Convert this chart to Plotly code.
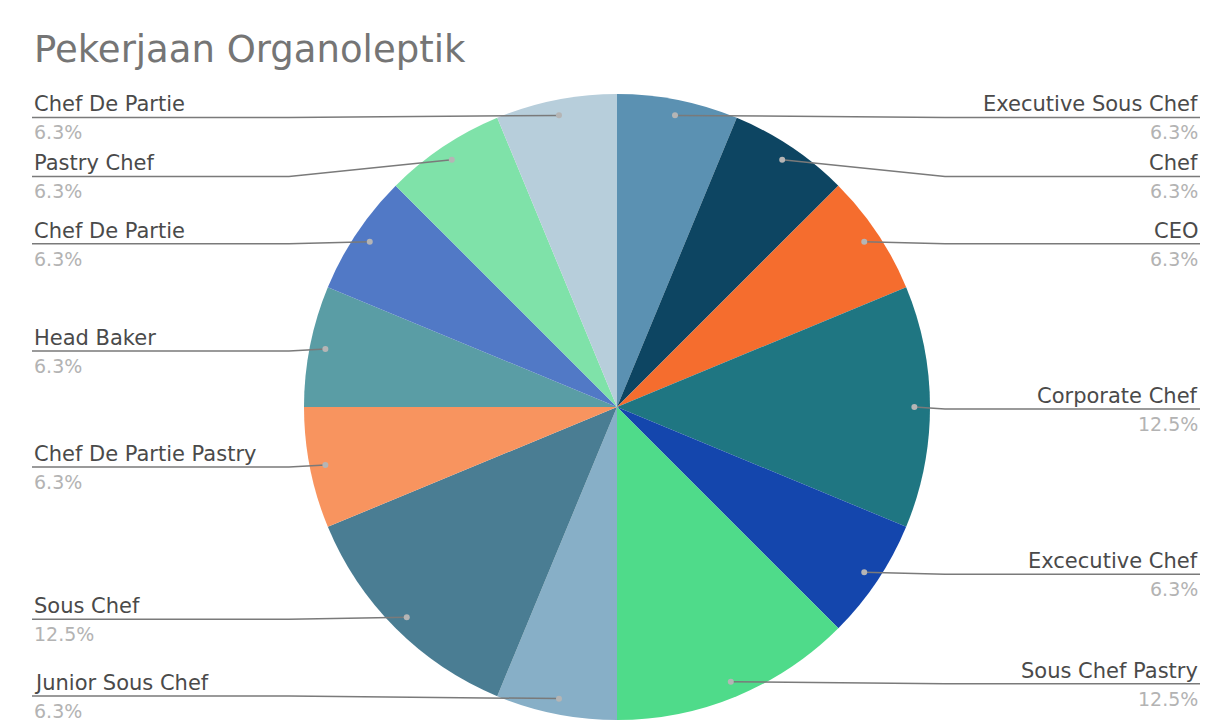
import math
import plotly.graph_objects as go

# ---- data ----
labels = ["Executive Sous Chef", "Chef", "CEO", "Corporate Chef", "Excecutive Chef",
          "Sous Chef Pastry", "Junior Sous Chef", "Sous Chef", "Chef De Partie Pastry",
          "Head Baker", "Chef De Partie", "Pastry Chef", "Chef De Partie"]
values = [1, 1, 1, 2, 1, 2, 1, 2, 1, 1, 1, 1, 1]
colors = ["#5b91b2", "#0d4562", "#f56d2e", "#1f7682", "#1446ad",
          "#4fdb8a", "#87afc7", "#4a7d93", "#f8945f",
          "#5a9da5", "#5179c6", "#7fe2a9", "#b7cedb"]
title = "Pekerjaan Organoleptik"

# ---- geometry (pixels) ----
W, H = 1205, 725
CX, CY, R = 617, 407, 313
DOT_R = 0.95 * R
LEFT_X, RIGHT_X = 32, 1200
GAP = 59
MAX_LINE_Y = H - 29

total = sum(values)


def pct_text(v):
    p = math.floor(v / total * 1000 + 0.5) / 10
    return f"{p:.1f}%"


fig = go.Figure()
fig.add_trace(go.Pie(
    values=values, labels=[str(i) for i in range(len(values))],
    hovertext=labels, hoverinfo="text+percent",
    sort=False, direction="clockwise", rotation=0,
    textinfo="none", showlegend=False,
    marker=dict(colors=colors, line=dict(width=0)),
    domain=dict(x=[(CX - R) / W, (CX + R) / W], y=[(H - (CY + R)) / H, (H - (CY - R)) / H]),
))
fig.add_trace(go.Scatter(x=[], y=[], showlegend=False, hoverinfo="skip"))

# slice mid-angles and dot positions
cum = 0
items = []
for i, v in enumerate(values):
    mid = (cum + v / 2) / total * 2 * math.pi
    cum += v
    dx = CX + DOT_R * math.sin(mid)
    dy = CY - DOT_R * math.cos(mid)
    items.append(dict(i=i, dx=dx, dy=dy, side="right" if math.sin(mid) >= 0 else "left"))

shapes = []
annotations = []
for side in ("left", "right"):
    group = sorted([it for it in items if it["side"] == side], key=lambda t: t["dy"])
    prev = -1e9
    for it in group:
        ly = min(max(it["dy"] + 2, prev + GAP), MAX_LINE_Y)
        prev = ly
        i = it["i"]
        if side == "left":
            bend_x, end_x, anchor = CX - R - 15, LEFT_X, "left"
        else:
            bend_x, end_x, anchor = CX + R + 15, RIGHT_X, "right"
        shapes.append(dict(type="path", xref="x", yref="y", layer="above",
                           path=f"M {it['dx']:.1f} {it['dy']:.1f} L {bend_x:.1f} {ly:.1f} L {end_x:.1f} {ly:.1f}",
                           line=dict(color="#7a7a7a", width=1.5)))
        shapes.append(dict(type="circle", xref="x", yref="y", layer="above",
                           x0=it["dx"] - 3, x1=it["dx"] + 3, y0=it["dy"] - 3, y1=it["dy"] + 3,
                           fillcolor="#b5b5b5", line=dict(width=0)))
        annotations.append(dict(xref="x", yref="y", x=end_x, y=ly - 13, xanchor=anchor, yanchor="middle",
                                text=labels[i], showarrow=False,
                                font=dict(family="DejaVu Sans", size=21, color="#4a4a4a")))
        annotations.append(dict(xref="x", yref="y", x=end_x, y=ly + 15, xanchor=anchor, yanchor="middle",
                                text=pct_text(values[i]), showarrow=False,
                                font=dict(family="DejaVu Sans", size=19, color="#b3b3b3")))

annotations.append(dict(xref="x", yref="y", x=32, y=49, xanchor="left", yanchor="middle",
                        text=title, showarrow=False,
                        font=dict(family="DejaVu Sans", size=37, color="#757575")))

fig.update_layout(
    width=W, height=H, autosize=False,
    margin=dict(l=0, r=0, t=0, b=0),
    paper_bgcolor="white", plot_bgcolor="white",
    xaxis=dict(range=[0, W], visible=False, domain=[0, 1], fixedrange=True),
    yaxis=dict(range=[H, 0], visible=False, domain=[0, 1], fixedrange=True),
    shapes=shapes, annotations=annotations,
)

fig.write_html("out.html", config={"displayModeBar": False},
               post_script="document.body.style.margin='0';document.body.style.overflow='hidden';")
